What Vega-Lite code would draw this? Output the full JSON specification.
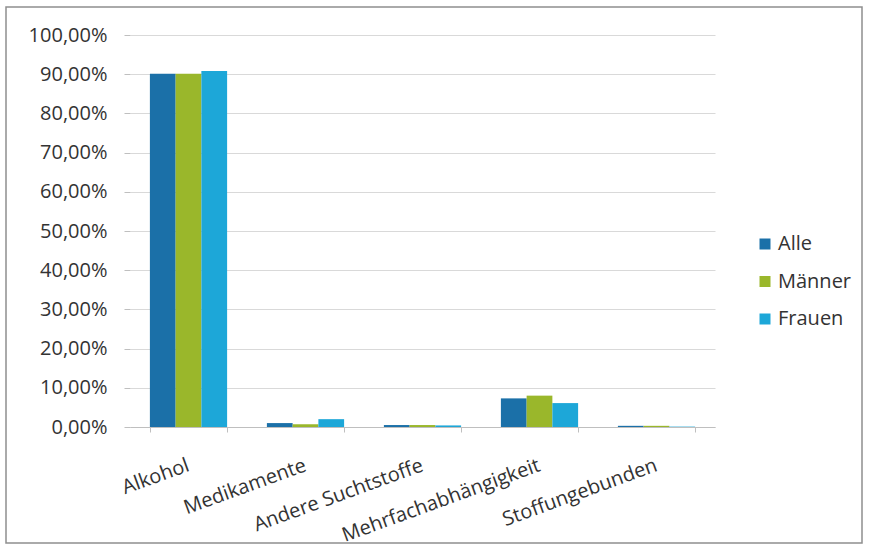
{
  "$schema": "https://vega.github.io/schema/vega-lite/v6.json",
  "width": 856,
  "height": 536,
  "autosize": {"type": "none"},
  "padding": {"left": 6, "top": 7, "right": 8, "bottom": 14},
  "background": "white",
  "data": {
    "values": [
      {"Kategorie": "Alkohol", "Gruppe": "Alle", "Anteil": 90.1},
      {"Kategorie": "Alkohol", "Gruppe": "Männer", "Anteil": 90.1},
      {"Kategorie": "Alkohol", "Gruppe": "Frauen", "Anteil": 90.8},
      {"Kategorie": "Medikamente", "Gruppe": "Alle", "Anteil": 1.0},
      {"Kategorie": "Medikamente", "Gruppe": "Männer", "Anteil": 0.7},
      {"Kategorie": "Medikamente", "Gruppe": "Frauen", "Anteil": 2.0},
      {"Kategorie": "Andere Suchtstoffe", "Gruppe": "Alle", "Anteil": 0.5},
      {"Kategorie": "Andere Suchtstoffe", "Gruppe": "Männer", "Anteil": 0.5},
      {"Kategorie": "Andere Suchtstoffe", "Gruppe": "Frauen", "Anteil": 0.4},
      {"Kategorie": "Mehrfachabhängigkeit", "Gruppe": "Alle", "Anteil": 7.3},
      {"Kategorie": "Mehrfachabhängigkeit", "Gruppe": "Männer", "Anteil": 8.0},
      {"Kategorie": "Mehrfachabhängigkeit", "Gruppe": "Frauen", "Anteil": 6.1},
      {"Kategorie": "Stoffungebunden", "Gruppe": "Alle", "Anteil": 0.3},
      {"Kategorie": "Stoffungebunden", "Gruppe": "Männer", "Anteil": 0.3},
      {"Kategorie": "Stoffungebunden", "Gruppe": "Frauen", "Anteil": 0.1}
    ]
  },
  "mark": {"type": "bar"},
  "encoding": {
    "x": {
      "field": "Kategorie",
      "type": "nominal",
      "sort": null,
      "scale": {"range": [124, 709], "paddingInner": 0.34, "paddingOuter": 0.17},
      "axis": {
        "title": null,
        "offset": -116,
        "labelAngle": -20,
        "labelFont": "Open Sans",
        "labelFontSize": 20,
        "labelColor": "#333333",
        "labelPadding": 23,
        "labelOffset": -4,
        "labelLimit": 0,
        "tickBand": "extent",
        "tickSize": 5,
        "tickColor": "#bfbfbf",
        "domainColor": "#bfbfbf",
        "grid": false
      }
    },
    "xOffset": {"field": "Gruppe", "type": "nominal", "sort": ["Alle", "Männer", "Frauen"]},
    "y": {
      "field": "Anteil",
      "type": "quantitative",
      "scale": {"domain": [0, 100], "range": [420, 28], "nice": false},
      "axis": {
        "title": null,
        "offset": -124,
        "values": [0, 10, 20, 30, 40, 50, 60, 70, 80, 90, 100],
        "labelExpr": "replace(format(datum.value, '.2f'), '.', ',') + '%'",
        "labelFont": "Open Sans",
        "labelFontSize": 20,
        "labelColor": "#333333",
        "labelPadding": 17,
        "domain": false,
        "tickSize": 6,
        "tickColor": "#bfbfbf",
        "gridColor": "#d9d9d9",
        "gridWidth": 1
      }
    },
    "color": {
      "field": "Gruppe",
      "type": "nominal",
      "sort": ["Alle", "Männer", "Frauen"],
      "scale": {"domain": ["Alle", "Männer", "Frauen"], "range": ["#1b70a8", "#9ab72b", "#1da7d8"]},
      "legend": {
        "title": null,
        "orient": "none",
        "legendX": 749,
        "legendY": 227,
        "padding": 0,
        "symbolType": "square",
        "symbolSize": 121,
        "symbolStrokeWidth": 0,
        "labelFont": "Open Sans",
        "labelFontSize": 20,
        "labelColor": "#333333",
        "labelOffset": 3,
        "rowPadding": 17.5
      }
    }
  },
  "config": {
    "view": {"stroke": "#8f8f8f", "strokeWidth": 1.5}
  }
}
